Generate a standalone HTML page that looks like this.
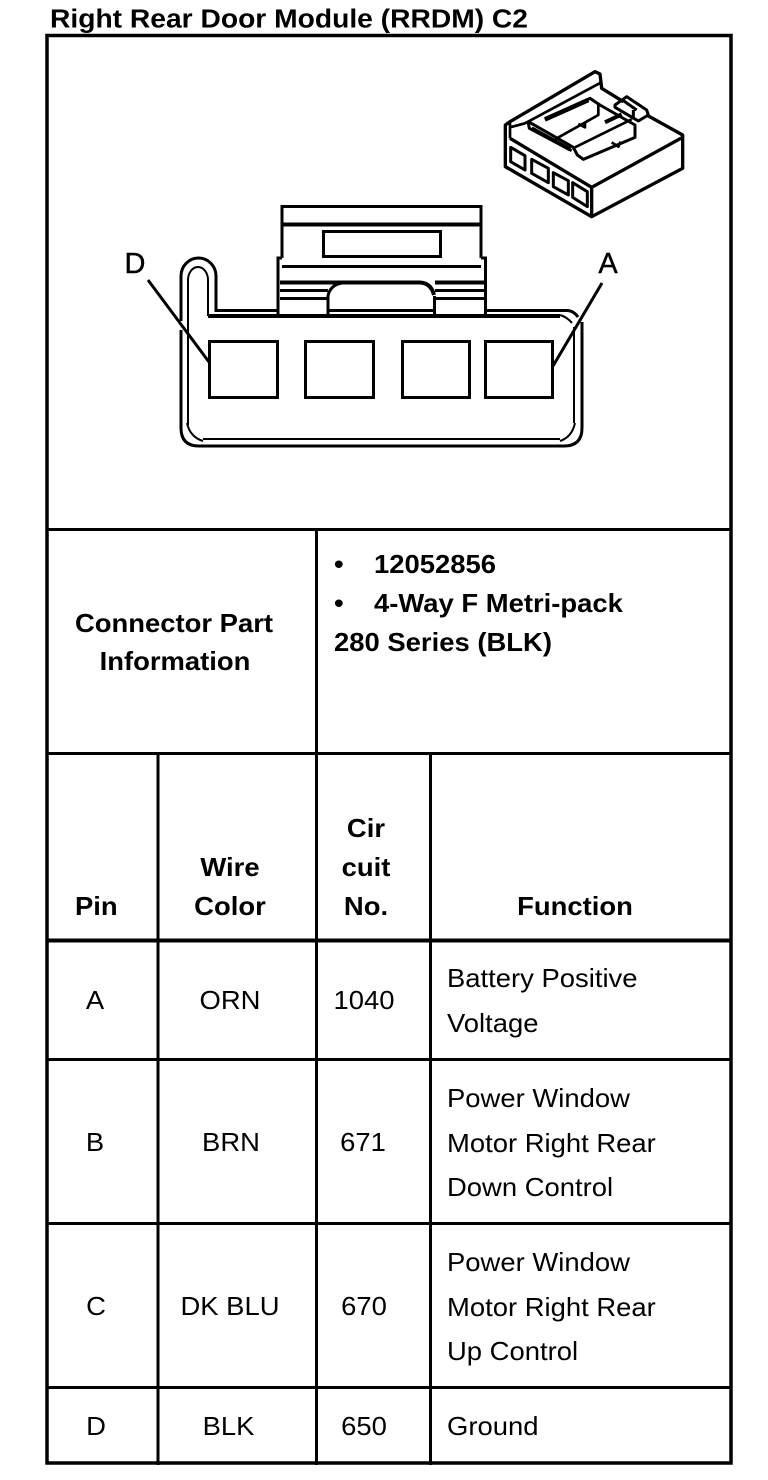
<!DOCTYPE html>
<html><head><meta charset="utf-8"><style>
html,body{margin:0;padding:0;background:#fff}
svg{display:block}
text{font-family:"Liberation Sans",Arial,sans-serif;fill:#000}
.b,.r{font-size:26px;transform-box:fill-box;transform-origin:left center;transform:scaleX(1.055)}
.b{font-weight:bold}
.m{text-anchor:middle;transform-origin:center center}
.l{font-size:29px;stroke:#000;stroke-width:.4;text-anchor:middle}
</style></head><body>
<svg width="768" height="1480" viewBox="0 0 768 1480" xmlns="http://www.w3.org/2000/svg">
<rect width="768" height="1480" fill="#fff"/>
<text x="50" y="27.500" font-weight="bold" font-size="25.500" textLength="478" lengthAdjust="spacingAndGlyphs">Right Rear Door Module (RRDM) C2</text>

<!-- table frame -->
<g stroke="#000" fill="none" stroke-width="3">
<path d="M47 35.500H731V1463H47Z" stroke-width="3.500"/>
<path d="M47 529.500H731M47 753.500H731M47 1059.500H731M47 1223.500H731M47 1387.500H731"/>
<path d="M47 940.500H731" stroke-width="4"/>
<path d="M316.500 529V1465M158 753V1465M430.500 753V1465"/>
</g>

<!-- connector front view -->
<g stroke="#000" fill="none" stroke-linejoin="miter">
<!-- outer shell -->
<path stroke-width="3" d="M181 321V276A17.500 18 0 0 1 216 276V310.500H277"/>
<path stroke-width="3" d="M486 310.500H566Q573 310 578 317"/>
<path stroke-width="3" d="M582 322V428Q582 446 564 446H199Q181 446 181 428V330"/>
<!-- inner shell -->
<path stroke-width="2" d="M188 425V280A10 13 0 0 1 208 280V316"/>
<path stroke-width="4" d="M208 316H560"/>
<path stroke-width="2" d="M574 327V423"/>
<path stroke-width="2" d="M203 439H560"/>
<path stroke-width="2" d="M187 423Q190 437 203 441M575 423Q572 437 560 441M560 315Q567 317 572 323"/>
<path stroke-width="3" d="M328 310.500H433"/>
<g stroke-width="3">
<rect x="209.500" y="341.500" width="68" height="56"/>
<rect x="305.500" y="341.500" width="68" height="56"/>
<rect x="402.500" y="341.500" width="67" height="56"/>
<rect x="485.500" y="341.500" width="67" height="56"/>
<path d="M282 258V206.500H481V258"/>
<path d="M282 224.500H481" stroke-width="4"/>
<rect x="323.500" y="231.500" width="117" height="25"/>
<path d="M282 266.500H481"/>
<path d="M278 314V258H282M481 258H485.500V314"/>
<path d="M280 282.500H420Q431 283 434 295" stroke-width="4"/>
<path d="M435 282.500H484" stroke-width="4"/>
<path d="M280 290.500H328M435 290.500H484M280 298.500H328M435 298.500H484"/>
<path d="M328 314V296Q330 285 342 283"/>
<path d="M434.500 296V314"/>
</g>
<path stroke-width="3" d="M148 280L209 362M602 283L553 366"/>
</g>
<text x="135" y="273" class="l">D</text>
<text x="608" y="273" class="l">A</text>

<!-- isometric connector -->
<g transform="translate(490 60) scale(.33333)" stroke="#000" fill="none" stroke-width="8" stroke-linejoin="round">
<path stroke-width="10" d="M400 125L335 85L330 42L315 35L60 185L46 195V320L305 470L578 325V225L470 165"/>
<path stroke-width="10" d="M305 382V468M305 382L578 232M60 235L305 382"/>
<path d="M60 185V235M60 202L105 190M332 68L105 190"/>
<path stroke-width="9" d="M115 185L250 262L262 285L280 298L435 232V195L330 135L300 115L165 180M115 190L118 205L245 272"/>
<path stroke-width="14" d="M165 178L295 120"/>
<path stroke-width="12" d="M125 205L240 268"/>
<path d="M300 115L325 132V165L195 238M265 192L285 202V188M255 262L425 178"/>
<path stroke-width="12" d="M345 187L395 163"/>
<path d="M365 247L385 260L392 245"/>
<path stroke-width="9" d="M375 135L410 110L470 150L475 165L445 183L375 142ZM430 150V178M400 122L440 150"/>
<path stroke-width="9" d="M62 262L105 287V330L62 305Z"/>
<path stroke-width="9" d="M125 298L175 325V368L125 340Z"/>
<path stroke-width="9" d="M190 338L235 362V405L190 380Z"/>
<path stroke-width="9" d="M248 368L292 395V440L248 412Z"/>
</g>

<!-- connector part info -->
<text class="b m" x="174" y="632">Connector Part</text>
<text class="b m" x="175" y="670">Information</text>
<text class="b" x="334" y="573">•</text>
<text class="b" x="374" y="573">12052856</text>
<text class="b" x="334" y="612">•</text>
<text class="b" x="374" y="612">4-Way F Metri-pack</text>
<text class="b" x="334" y="651">280 Series (BLK)</text>

<!-- header -->
<text class="b" x="75" y="915">Pin</text>
<text class="b m" x="230" y="876">Wire</text>
<text class="b m" x="230" y="915">Color</text>
<text class="b m" x="366" y="837">Cir</text>
<text class="b m" x="366" y="876">cuit</text>
<text class="b m" x="366" y="915">No.</text>
<text class="b m" x="575" y="915">Function</text>

<!-- rows -->
<text class="r m" x="95" y="1009">A</text>
<text class="r m" x="230" y="1009">ORN</text>
<text class="r m" x="364" y="1009">1040</text>
<text class="r" x="447" y="987">Battery Positive</text>
<text class="r" x="447" y="1032">Voltage</text>

<text class="r m" x="95" y="1151">B</text>
<text class="r m" x="231" y="1151">BRN</text>
<text class="r m" x="363" y="1151">671</text>
<text class="r" x="447" y="1107">Power Window</text>
<text class="r" x="447" y="1152">Motor Right Rear</text>
<text class="r" x="447" y="1196">Down Control</text>

<text class="r m" x="96" y="1315">C</text>
<text class="r m" x="230" y="1315">DK BLU</text>
<text class="r m" x="364" y="1315">670</text>
<text class="r" x="447" y="1271">Power Window</text>
<text class="r" x="447" y="1316">Motor Right Rear</text>
<text class="r" x="447" y="1360">Up Control</text>

<text class="r m" x="96" y="1435">D</text>
<text class="r m" x="228.500" y="1435">BLK</text>
<text class="r m" x="364" y="1435">650</text>
<text class="r" x="447" y="1435">Ground</text>
</svg>
</body></html>
